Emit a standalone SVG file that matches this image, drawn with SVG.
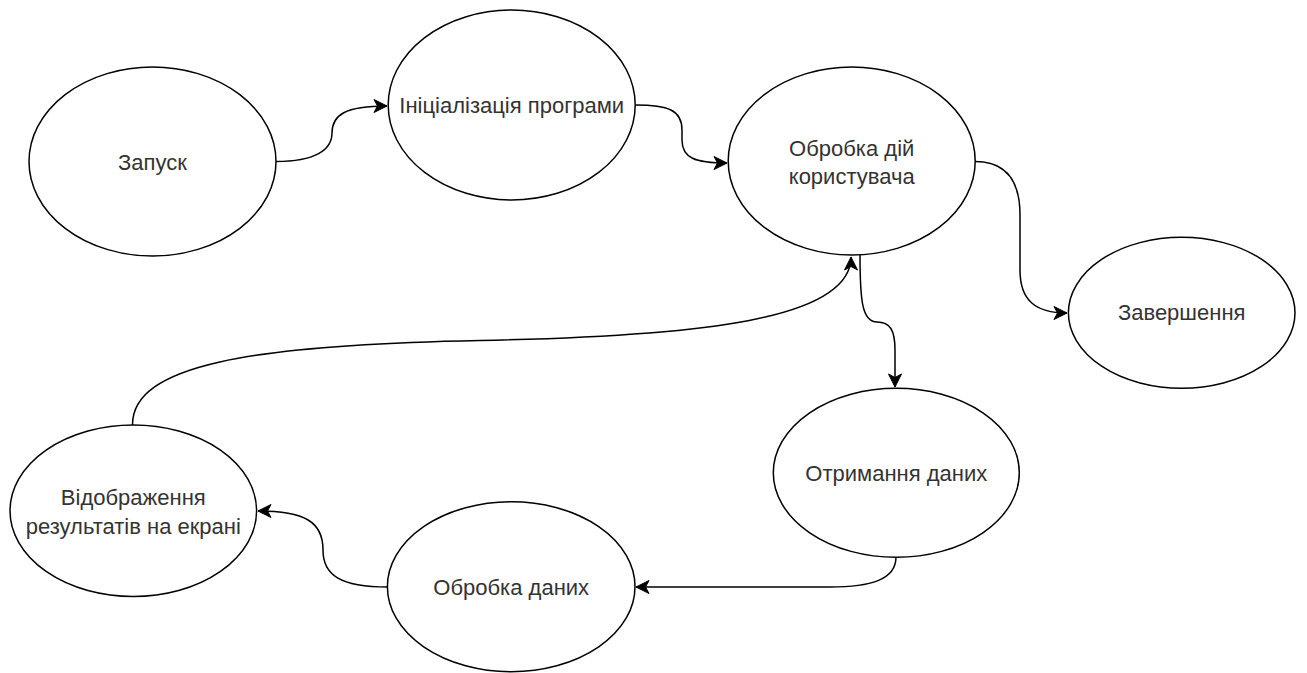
<svg xmlns="http://www.w3.org/2000/svg" width="1307" height="673" viewBox="0 0 1307 673">
<style>
.n{fill:#fff;stroke:#000;stroke-width:1.5}
.t{font-family:"Liberation Sans",Arial,sans-serif;font-size:22px;fill:#333;text-anchor:middle;dominant-baseline:central}
.e{fill:none;stroke:#000;stroke-width:1.5;marker-end:url(#arr)}
</style>
<defs>
<marker id="arr" markerUnits="userSpaceOnUse" viewBox="-14 -7 15 14" markerWidth="15" markerHeight="14" refX="0" refY="0" orient="auto">
<path d="M0,0 L-13,-6.5 L-9.5,0 L-13,6.5 Z" fill="#000" stroke="#000" stroke-width="1"/>
</marker>
</defs>
<rect width="1307" height="673" fill="#fff"/>
<g id="connectors">
<path class="e" d="M276,161.5 C315,161.5 332,150 332,133 C332,115 345,106 387,106"/>
<path class="e" d="M635.5,105 C668,105 682,110 682,130 L682,140 C682,158 695,163 727,163"/>
<path class="e" d="M975,161.5 C1005,161.5 1020,180 1020,215 L1020,270 C1020,300 1035,313 1067,313"/>
<path class="e" d="M860,255 C860,300 862,322 877,322 C890,322 895,330 895,350 L895,387"/>
<path class="e" d="M896,557 C896,580 870,587 830,587 L636,587"/>
<path class="e" d="M388,587 C340,587 323,575 323,550 C323,522 305,511 258,511"/>
<path class="e" d="M132.5,425 C132,365 250,345 480,340.5 C700,336 851,320 851,257"/>
</g>
<g id="n1"><ellipse class="n" cx="152.5" cy="161.5" rx="123.5" ry="94.5"/><text class="t" x="152.5" y="162">Запуск</text></g>
<g id="n2"><ellipse class="n" cx="511.7" cy="105" rx="123.5" ry="95"/><text class="t" x="511.7" y="105">Ініціалізація програми</text></g>
<g id="n3"><ellipse class="n" cx="851.7" cy="161" rx="123.5" ry="94"/><text class="t" x="851.7" y="148">Обробка дій</text><text class="t" x="851.7" y="176.5">користувача</text></g>
<g id="n4"><ellipse class="n" cx="1181.7" cy="312.8" rx="113.3" ry="75.5"/><text class="t" x="1181.7" y="312">Завершення</text></g>
<g id="n5"><ellipse class="n" cx="896.3" cy="472.8" rx="123" ry="84.5"/><text class="t" x="896.3" y="473">Отримання даних</text></g>
<g id="n6"><ellipse class="n" cx="511.2" cy="586.7" rx="123.8" ry="85"/><text class="t" x="511.2" y="587">Обробка даних</text></g>
<g id="n7"><ellipse class="n" cx="133.3" cy="510.8" rx="123.3" ry="85.8"/><text class="t" x="133.3" y="497">Відображення</text><text class="t" x="133.3" y="526.5">результатів на екрані</text></g>
</svg>
